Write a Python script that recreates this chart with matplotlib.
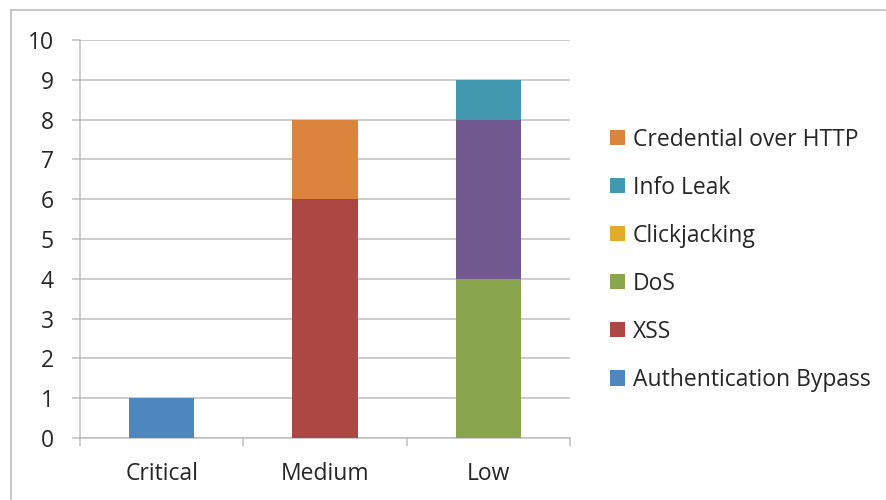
import matplotlib.pyplot as plt
from matplotlib.patches import Patch
from matplotlib.lines import Line2D
import numpy as np

plt.rcParams['font.family'] = ['Open Sans', 'DejaVu Sans']

categories = ['Critical', 'Medium', 'Low']

# stacked series, bottom to top
auth_bypass = [1, 0, 0]
xss = [0, 6, 0]
dos = [0, 0, 4]
unlabeled = [0, 0, 4]   # purple block in the Low bar, not listed in the legend
clickjacking = [0, 0, 0]
info_leak = [0, 0, 1]
credential_http = [0, 2, 0]

series = [
    ('Authentication Bypass', auth_bypass, '#4E86BE'),
    ('XSS', xss, '#AC4743'),
    ('DoS', dos, '#89A54E'),
    ('_unlabeled', unlabeled, '#71588F'),
    ('Clickjacking', clickjacking, '#E2AC2A'),
    ('Info Leak', info_leak, '#4198AF'),
    ('Credential over HTTP', credential_http, '#DB843D'),
]

fig = plt.figure(figsize=(8.87, 5), dpi=100)
ax = fig.add_axes([80 / 887, 1 - 438 / 500, 490 / 887, 398 / 500])

x = np.arange(len(categories))
bottom = np.zeros(len(categories))
for name, vals, col in series:
    vals = np.array(vals, dtype=float)
    ax.bar(x, vals, width=0.4, bottom=bottom, color=col, zorder=3)
    bottom += vals

ax.set_xlim(-0.5, 2.5)
ax.set_ylim(0, 10)
ax.set_yticks(range(0, 11))
ax.set_xticks(x)
ax.set_xticklabels(categories)
ax.set_xticks([-0.5, 0.5, 1.5, 2.5], minor=True)

fs = 16.5
grid_col = '#BEBEBE'
ax.yaxis.grid(True, color=grid_col, lw=1.1, zorder=0)
for s in ['top', 'right']:
    ax.spines[s].set_visible(False)
for s in ['left', 'bottom']:
    ax.spines[s].set_color(grid_col)
    ax.spines[s].set_linewidth(1.1)

ax.tick_params(axis='y', length=6, width=1.1, color=grid_col, pad=13,
               labelsize=fs, labelcolor='#262626')
ax.tick_params(axis='x', which='major', length=0, pad=17.5,
               labelsize=fs, labelcolor='#262626')
ax.tick_params(axis='x', which='minor', length=5.5, width=1.1, color=grid_col)

# legend, reversed order like the original
legend_items = [s for s in series if not s[0].startswith('_')][::-1]
handles = [Patch(facecolor=c, edgecolor='none') for _, _, c in legend_items]
labels = [n for n, _, _ in legend_items]
fig.legend(handles, labels, loc='upper left', bbox_to_anchor=(589 / 887, 1 - 107 / 500),
           frameon=False, fontsize=fs, labelspacing=1.05, handlelength=0.65,
           handleheight=0.65, handletextpad=0.35, labelcolor='#262626')

# outer chart border
fig.add_artist(Line2D([11 / 887, 11 / 887], [0, 1 - 10 / 500], color='#BFBFBF', lw=1.2))
fig.add_artist(Line2D([11 / 887, 1], [1 - 10 / 500, 1 - 10 / 500], color='#BFBFBF', lw=1.2))

fig.savefig('out.png', dpi=100)
